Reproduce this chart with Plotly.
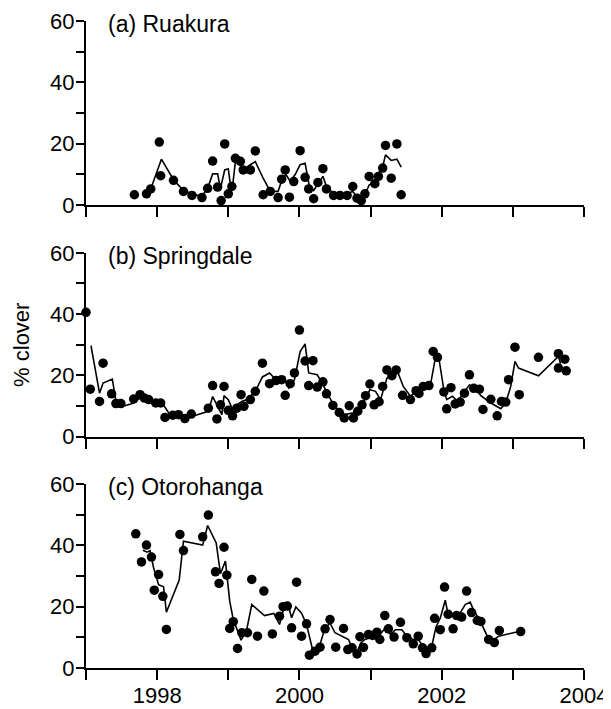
import plotly.graph_objects as go

# ---------------- data ----------------
panel_titles = ["(a) Ruakura", "(b) Springdale", "(c) Otorohanga"]
y_title = "% clover"
x_tick_years = [1997, 1998, 1999, 2000, 2001, 2002, 2003, 2004]
x_tick_text = ["", "1998", "", "2000", "", "2002", "", "2004"]
y_tick_vals = [0, 10, 20, 30, 40, 50, 60]
y_tick_text = ["0", "", "20", "", "40", "", "60"]

# (a) Ruakura observations
ruakura_obs_year = [1997.68, 1997.85, 1997.91, 1998.03, 1998.05, 1998.23, 1998.37, 1998.49, 1998.63, 1998.71,
                    1998.78, 1998.85, 1998.90, 1998.95, 1999.00, 1999.05, 1999.10, 1999.17, 1999.21, 1999.31,
                    1999.38, 1999.49, 1999.59, 1999.70, 1999.75, 1999.80, 1999.86, 1999.92, 2000.01, 2000.08,
                    2000.13, 2000.20, 2000.26, 2000.33, 2000.38, 2000.48, 2000.57, 2000.67, 2000.75, 2000.81,
                    2000.87, 2000.92, 2000.98, 2001.06, 2001.11, 2001.17, 2001.21, 2001.29, 2001.37, 2001.43]
ruakura_obs_val = [3.3, 3.6, 5.2, 20.5, 9.5, 8.0, 4.4, 3.1, 2.4, 5.4,
                   14.3, 5.8, 1.4, 19.9, 3.6, 6.0, 15.2, 14.2, 11.4, 11.4,
                   17.6, 3.3, 4.4, 2.4, 8.4, 11.4, 2.5, 7.6, 17.7, 9.0,
                   5.2, 2.0, 7.3, 11.8, 5.2, 3.1, 3.1, 3.1, 6.0, 2.2,
                   1.4, 3.6, 9.3, 6.9, 9.3, 12.0, 19.4, 8.7, 19.9, 3.3]
# (a) Ruakura model
ruakura_fit_year = [1997.83, 1997.91, 1998.06, 1998.23, 1998.37, 1998.53, 1998.63, 1998.71, 1998.78, 1998.85,
                    1998.89, 1998.95, 1999.00, 1999.03, 1999.06, 1999.10, 1999.17, 1999.21, 1999.31, 1999.38,
                    1999.49, 1999.59, 1999.70, 1999.75, 1999.81, 1999.87, 1999.94, 2000.01, 2000.08, 2000.14,
                    2000.20, 2000.27, 2000.33, 2000.38, 2000.48, 2000.67, 2000.75, 2000.81, 2000.87, 2000.92,
                    2000.98, 2001.06, 2001.11, 2001.17, 2001.21, 2001.29, 2001.37, 2001.43]
ruakura_fit_val = [3.3, 5.2, 14.9, 8.2, 4.7, 3.3, 2.8, 5.4, 10.1, 10.1,
                   5.4, 11.4, 11.8, 6.5, 6.0, 14.1, 13.6, 11.4, 13.1, 14.1,
                   8.7, 4.4, 4.4, 7.9, 9.9, 7.7, 9.9, 13.1, 13.6, 6.0,
                   4.7, 7.1, 9.3, 6.0, 3.6, 3.6, 4.4, 2.6, 1.7, 3.3,
                   6.5, 7.6, 10.3, 12.5, 16.3, 14.5, 14.9, 12.3]

# (b) Springdale observations
spring_obs_year = [1997.00, 1997.06, 1997.19, 1997.24, 1997.36, 1997.42, 1997.49, 1997.67, 1997.76, 1997.82,
                   1997.88, 1997.98, 1998.05, 1998.11, 1998.22, 1998.30, 1998.39, 1998.48, 1998.72, 1998.78,
                   1998.84, 1998.89, 1998.94, 1999.00, 1999.06, 1999.12, 1999.18, 1999.22, 1999.31, 1999.38,
                   1999.48, 1999.58, 1999.67, 1999.75, 1999.80, 1999.87, 1999.93, 2000.00, 2000.08, 2000.13,
                   2000.19, 2000.25, 2000.33, 2000.38, 2000.47, 2000.56, 2000.63, 2000.70, 2000.76, 2000.82,
                   2000.88, 2000.93, 2000.99, 2001.05, 2001.12, 2001.17, 2001.23, 2001.30, 2001.36, 2001.45,
                   2001.56, 2001.64, 2001.68, 2001.74, 2001.82, 2001.88, 2001.94, 2002.03, 2002.07, 2002.13,
                   2002.19, 2002.26, 2002.32, 2002.39, 2002.45, 2002.53, 2002.58, 2002.69, 2002.78, 2002.84,
                   2002.90, 2002.94, 2003.03, 2003.09, 2003.36, 2003.64, 2003.64, 2003.73, 2003.75]
spring_obs_val = [40.6, 15.5, 11.5, 24.0, 14.0, 10.8, 10.8, 12.3, 13.7, 12.6,
                  12.1, 11.0, 11.0, 6.3, 7.0, 7.2, 5.9, 7.4, 9.3, 16.7,
                  5.8, 10.4, 16.4, 8.6, 6.8, 9.3, 13.7, 9.9, 12.1, 14.8,
                  24.0, 17.3, 18.3, 18.6, 13.5, 17.3, 20.8, 34.8, 24.7, 16.7,
                  24.8, 16.2, 17.9, 14.0, 10.2, 7.9, 6.1, 10.1, 6.1, 8.3,
                  10.4, 13.4, 17.2, 10.4, 11.4, 16.4, 21.8, 19.9, 21.8, 13.5,
                  12.1, 15.0, 14.1, 16.4, 16.7, 27.8, 25.9, 14.6, 9.1, 16.0,
                  10.7, 11.3, 14.2, 20.2, 15.8, 15.5, 8.9, 12.2, 6.8, 11.5,
                  11.3, 18.6, 29.2, 13.7, 25.9, 27.1, 22.4, 25.3, 21.5]
# (b) Springdale model
spring_fit_year = [1997.07, 1997.19, 1997.24, 1997.37, 1997.43, 1997.55, 1997.67, 1997.77, 1997.90, 1998.02,
                   1998.07, 1998.18, 1998.32, 1998.42, 1998.72, 1998.78, 1998.91, 1998.94, 1999.00, 1999.06,
                   1999.12, 1999.19, 1999.26, 1999.38, 1999.48, 1999.58, 1999.67, 1999.78, 1999.85, 1999.93,
                   2000.01, 2000.08, 2000.13, 2000.25, 2000.33, 2000.39, 2000.48, 2000.58, 2000.64, 2000.76,
                   2000.88, 2000.99, 2001.07, 2001.14, 2001.23, 2001.30, 2001.37, 2001.46, 2001.56, 2001.65,
                   2001.75, 2001.84, 2001.91, 2001.96, 2002.03, 2002.07, 2002.15, 2002.22, 2002.31, 2002.39,
                   2002.46, 2002.55, 2002.69, 2002.83, 2002.90, 2002.97, 2003.03, 2003.08, 2003.36, 2003.64,
                   2003.67]
spring_fit_val = [29.7, 14.2, 17.5, 18.8, 10.4, 10.1, 11.0, 12.9, 11.5, 11.0,
                  11.0, 7.2, 7.2, 6.1, 8.3, 13.1, 7.2, 13.4, 12.1, 8.9,
                  10.4, 11.5, 12.1, 14.8, 19.5, 20.8, 18.6, 19.1, 15.9, 18.6,
                  27.8, 30.3, 20.8, 20.2, 17.1, 14.2, 10.4, 7.9, 7.2, 7.8,
                  10.4, 15.3, 14.8, 12.1, 19.1, 20.8, 21.8, 16.4, 13.2, 14.8,
                  17.3, 16.7, 25.6, 25.6, 15.3, 12.1, 13.2, 11.6, 14.2, 16.9,
                  16.2, 13.4, 11.0, 9.1, 11.0, 16.4, 24.6, 22.4, 19.9, 26.2,
                  23.8]

# (c) Otorohanga observations
otoro_obs_year = [1997.70, 1997.78, 1997.85, 1997.92, 1997.96, 1998.02, 1998.08, 1998.13, 1998.32, 1998.37,
                  1998.64, 1998.72, 1998.82, 1998.87, 1998.94, 1998.98, 1999.02, 1999.07, 1999.13, 1999.19,
                  1999.27, 1999.33, 1999.41, 1999.50, 1999.62, 1999.72, 1999.77, 1999.83, 1999.89, 1999.96,
                  2000.03, 2000.10, 2000.14, 2000.22, 2000.29, 2000.36, 2000.43, 2000.51, 2000.62, 2000.68,
                  2000.74, 2000.81, 2000.85, 2000.90, 2000.97, 2001.03, 2001.09, 2001.13, 2001.20, 2001.25,
                  2001.33, 2001.42, 2001.51, 2001.60, 2001.67, 2001.73, 2001.78, 2001.86, 2001.90, 2001.98,
                  2002.04, 2002.09, 2002.16, 2002.21, 2002.28, 2002.35, 2002.42, 2002.50, 2002.55, 2002.66,
                  2002.74, 2002.81, 2003.11]
otoro_obs_val = [43.8, 34.6, 40.1, 36.2, 25.4, 30.5, 23.4, 12.6, 43.6, 38.3,
                 42.8, 49.9, 31.4, 27.6, 39.4, 30.3, 12.9, 15.1, 6.4, 11.5,
                 11.5, 28.9, 10.4, 25.1, 11.1, 16.9, 20.0, 20.2, 13.1, 28.0,
                 10.4, 14.4, 4.2, 5.5, 6.8, 12.8, 15.8, 6.8, 12.9, 6.0,
                 6.6, 4.6, 10.2, 6.7, 10.9, 10.6, 11.7, 9.3, 17.1, 12.8,
                 10.1, 14.9, 9.9, 7.9, 10.4, 6.6, 4.7, 6.6, 16.2, 12.5,
                 26.4, 17.5, 12.8, 17.1, 16.6, 25.1, 18.1, 15.5, 15.2, 9.3,
                 8.3, 12.2, 11.9]
# (c) Otorohanga model
otoro_fit_year = [1997.80, 1997.86, 1997.90, 1997.95, 1998.02, 1998.09, 1998.13, 1998.31, 1998.37, 1998.64,
                  1998.71, 1998.83, 1998.89, 1998.96, 1999.02, 1999.07, 1999.18, 1999.26, 1999.33, 1999.51,
                  1999.64, 1999.72, 1999.78, 1999.85, 1999.89, 1999.95, 2000.03, 2000.10, 2000.19, 2000.27,
                  2000.36, 2000.43, 2000.50, 2000.63, 2000.69, 2000.74, 2000.81, 2000.86, 2000.92, 2001.03,
                  2001.11, 2001.20, 2001.28, 2001.35, 2001.44, 2001.51, 2001.60, 2001.67, 2001.74, 2001.80,
                  2001.86, 2001.92, 2001.98, 2002.05, 2002.09, 2002.16, 2002.20, 2002.26, 2002.33, 2002.40,
                  2002.45, 2002.54, 2002.66, 2002.73, 2002.80, 2003.10]
otoro_fit_val = [38.4, 37.8, 38.3, 32.7, 27.2, 26.5, 18.2, 28.7, 41.4, 40.1,
                 46.5, 40.8, 30.8, 34.9, 21.8, 15.8, 9.1, 12.6, 20.7, 17.1,
                 17.8, 14.2, 19.6, 19.8, 16.4, 19.9, 17.9, 14.2, 5.5, 6.2,
                 13.1, 14.6, 11.5, 9.9, 9.3, 6.7, 5.1, 8.1, 9.3, 10.2,
                 10.4, 12.8, 11.0, 12.5, 12.5, 10.4, 9.3, 9.3, 7.1, 6.0,
                 7.1, 13.4, 16.3, 22.1, 17.5, 16.9, 16.4, 18.0, 20.7, 21.5,
                 18.8, 15.4, 9.4, 9.2, 10.4, 12.0]

# ---------------- figure ----------------
FONT = "Liberation Sans, Arial, Helvetica, sans-serif"
fig = go.Figure()

panels = [
    (ruakura_obs_year, ruakura_obs_val, ruakura_fit_year, ruakura_fit_val),
    (spring_obs_year, spring_obs_val, spring_fit_year, spring_fit_val),
    (otoro_obs_year, otoro_obs_val, otoro_fit_year, otoro_fit_val),
]
domains = [[0.7158, 1.0], [0.3575, 0.6417], [0.0, 0.2842]]

for i, (oy, ov, fy, fv) in enumerate(panels):
    suffix = "" if i == 0 else str(i + 1)
    fig.add_trace(go.Scatter(x=fy, y=fv, mode="lines",
                             line=dict(color="black", width=1.6),
                             xaxis="x" + suffix, yaxis="y" + suffix,
                             showlegend=False, cliponaxis=False))
    fig.add_trace(go.Scatter(x=oy, y=ov, mode="markers",
                             marker=dict(color="black", size=9.5, line=dict(width=0)),
                             xaxis="x" + suffix, yaxis="y" + suffix,
                             showlegend=False, cliponaxis=False))

# the page body has an 8px margin, so the figure is 603x701 and sits at (8, 8)
layout = dict(
    width=603, height=701,
    margin=dict(l=78, r=27, t=13, b=40.5, autoexpand=False),
    paper_bgcolor="white", plot_bgcolor="white",
    font=dict(family=FONT, size=22, color="black"),
    showlegend=False,
)
for i in range(3):
    suffix = "" if i == 0 else str(i + 1)
    ax_key = "xaxis" + suffix
    ay_key = "yaxis" + suffix
    layout[ax_key] = dict(
        domain=[0, 1], anchor="y" + suffix, range=[1997, 2004], automargin=False,
        showgrid=False, zeroline=False, showline=True, linecolor="black", linewidth=2,
        ticks="outside", ticklen=10, tickwidth=2, tickcolor="black",
        tickmode="array", tickvals=x_tick_years, ticktext=x_tick_text,
        showticklabels=(i == 2), tickfont=dict(size=22), ticklabelstandoff=-3,
    )
    layout[ay_key] = dict(
        domain=domains[i], anchor="x" + suffix, range=[0, 60], automargin=False,
        showgrid=False, zeroline=False, showline=True, linecolor="black", linewidth=2,
        ticks="outside", ticklen=8, tickwidth=2, tickcolor="black",
        tickmode="array", tickvals=y_tick_vals, ticktext=y_tick_text,
        tickfont=dict(size=22), ticklabelstandoff=-3,
    )
layout["yaxis2"]["title"] = dict(text=y_title, font=dict(size=22), standoff=14)

fig.update_layout(**layout)

for i, t in enumerate(panel_titles):
    suffix = "" if i == 0 else str(i + 1)
    fig.add_annotation(text=t, xref="paper", yref="y" + suffix, x=0.04, y=59,
                       xanchor="left", yanchor="middle", showarrow=False,
                       font=dict(size=23, family=FONT, color="black"))

fig.write_html("out.html")
